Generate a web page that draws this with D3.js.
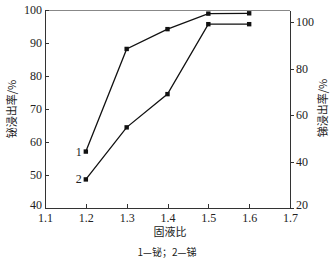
<!DOCTYPE html>
<html>
  <head>
    <script src="https://d3js.org/d3.v7.min.js"></script>
    <style>
      body { margin: 0; background: #fff; }
      .axis text { font-family: "Liberation Serif", serif; font-size: 12px; fill: #222; }
      .axis path, .axis line { stroke: #333; shape-rendering: crispEdges; }
    </style>
  </head>
  <body>
    <script>
      const ratios = [1.2, 1.3, 1.4, 1.5, 1.6];
      const bismuth = [57.1, 88.2, 94.2, 98.9, 99.0];
      const antimony = [32.3, 54.7, 69.0, 99.1, 99.1];
      const xTicks = [1.1, 1.2, 1.3, 1.4, 1.5, 1.6, 1.7];
      const leftTicks = [40, 50, 60, 70, 80, 90, 100];
      const rightTicks = [20, 40, 60, 80, 100];

      const width = 333, height = 261;
      const x = d3.scaleLinear().domain([1.1, 1.7]).range([45, 290]);
      const yL = d3.scaleLinear().domain([40, 100]).range([208, 10]);
      const yR = d3.scaleLinear().domain([20, 105.2]).range([208, 10]);

      const svg = d3.select('body').append('svg')
        .attr('width', width).attr('height', height);

      // top frame
      svg.append('line')
        .attr('x1', x(1.1)).attr('x2', x(1.7))
        .attr('y1', yL(100)).attr('y2', yL(100))
        .attr('stroke', '#888').attr('shape-rendering', 'crispEdges');

      svg.append('g').attr('class', 'axis')
        .attr('transform', `translate(0,${yL(40)})`)
        .call(d3.axisBottom(x).tickValues(xTicks).tickFormat(d3.format('.1f'))
          .tickSizeInner(-4).tickSizeOuter(0).tickPadding(5));

      const gl = svg.append('g').attr('class', 'axis')
        .attr('transform', `translate(${x(1.1)},0)`)
        .call(d3.axisLeft(yL).tickValues(leftTicks).tickSizeInner(-4).tickSizeOuter(0).tickPadding(3));
      // lowest label sits a little above the corner, as in the source
      gl.selectAll('.tick text').filter(d => d === 40).attr('y', -3);

      const gr = svg.append('g').attr('class', 'axis')
        .attr('transform', `translate(${x(1.7)},0)`)
        .call(d3.axisRight(yR).tickValues(rightTicks).tickSizeInner(4).tickSizeOuter(0).tickPadding(2));
      gr.selectAll('.tick text').filter(d => d === 20).attr('y', -3);

      const series = [
        { vals: bismuth, y: yL, label: '1' },
        { vals: antimony, y: yR, label: '2' }
      ];

      series.forEach(s => {
        const pts = ratios.map((r, i) => [x(r), s.y(s.vals[i])]);
        svg.append('path')
          .datum(pts)
          .attr('d', d3.line())
          .attr('fill', 'none')
          .attr('stroke', '#111')
          .attr('stroke-width', 1.3);
        svg.selectAll(null).data(pts).enter().append('rect')
          .attr('x', d => d[0] - 2.2).attr('y', d => d[1] - 2.2)
          .attr('width', 4.4).attr('height', 4.4)
          .attr('fill', '#111');
        svg.append('text')
          .attr('x', pts[0][0] - 4).attr('y', pts[0][1] + 4)
          .attr('text-anchor', 'end')
          .attr('font-family', 'Liberation Serif, serif')
          .attr('font-size', 12).attr('fill', '#222')
          .text(s.label);
      });

      const cjk = '"Noto Sans CJK SC", sans-serif';

      svg.append('text')
        .attr('transform', `translate(16,${(yL(40) + yL(100)) / 2}) rotate(-90)`)
        .attr('text-anchor', 'middle')
        .attr('font-family', cjk).attr('font-size', 11).attr('fill', '#222')
        .text('铋浸出率/%');

      svg.append('text')
        .attr('transform', `translate(327,108) rotate(-90)`)
        .attr('text-anchor', 'middle')
        .attr('font-family', cjk).attr('font-size', 11).attr('fill', '#222')
        .text('锑浸出率/%');

      svg.append('text')
        .attr('x', 170).attr('y', 236)
        .attr('text-anchor', 'middle')
        .attr('font-family', cjk).attr('font-size', 11).attr('fill', '#222')
        .text('固液比');

      svg.append('text')
        .attr('x', 167).attr('y', 256)
        .attr('text-anchor', 'middle')
        .attr('font-family', cjk).attr('font-size', 10).attr('fill', '#222')
        .text('1—铋；2—锑');
    </script>
  </body>
</html>
